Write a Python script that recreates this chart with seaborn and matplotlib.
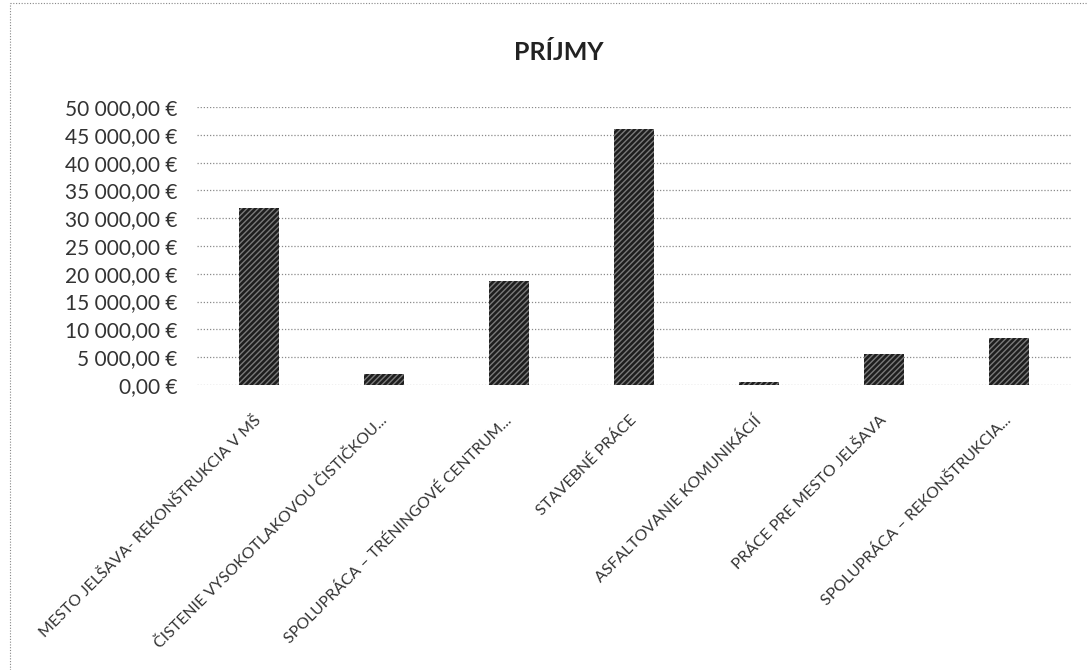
import matplotlib
matplotlib.use("Agg")
import matplotlib.pyplot as plt
import matplotlib.ticker as mticker
from matplotlib.lines import Line2D
import seaborn as sns

# data
categories = [
    "Mesto Jelšava- rekonštrukcia v MŠ",
    "Čistenie vysokotlakovou čističkou...",
    "Spolupráca – Tréningové centrum...",
    "Stavebné práce",
    "Asfaltovanie komunikácií",
    "Práce pre Mesto Jelšava",
    "Spolupráca – rekonštrukcia...",
]
income = [31800, 1900, 18700, 46000, 450, 5600, 8400]
y_ticks = list(range(0, 50001, 5000))

sns.set_style("white")
plt.rcParams['font.family'] = ['Lato', 'DejaVu Sans']
plt.rcParams['hatch.linewidth'] = 1.0

fig = plt.figure(figsize=(10.88, 6.70), dpi=100)
ax = fig.add_axes([0.181, 0.4254, 0.804, 0.4149])

sns.barplot(x=categories, y=income, color='#1e1e1e', width=0.32,
            saturation=1, ax=ax)
for bar in ax.patches:
    bar.set_hatch('//////')
    bar.set_edgecolor('#7a7a7a')
    bar.set_linewidth(0)

ax.set_ylim(0, 50000)
ax.set_xlim(-0.5, 6.5)
ax.set_yticks(y_ticks)

def euro(v, pos):
    return f"{v:,.2f}".replace(",", " ").replace(".", ",") + " €"

ax.yaxis.set_major_formatter(mticker.FuncFormatter(euro))
ax.yaxis.grid(True, color='#8a8a8a', linestyle=(0, (1, 1.5)), linewidth=0.9)
ax.set_axisbelow(True)
for s in ax.spines.values():
    s.set_visible(False)
ax.tick_params(axis='y', length=0, pad=14, labelsize=15, labelcolor='#333333')
ax.tick_params(axis='x', length=0, pad=24, labelsize=11.4, labelcolor='#333333')
ax.set_xticks(range(len(categories)))
ax.set_xticklabels([c.upper() for c in categories], rotation=45,
                   ha='right', va='center', rotation_mode='anchor')
ax.set_xlabel('')
ax.set_ylabel('')

fig.text(0.514, 0.921, "PRÍJMY", ha='center', va='center',
         fontsize=18, fontweight='bold', color='#222222')

# dotted chart border (top and left)
fig.add_artist(Line2D([0.009, 1.0], [0.996, 0.996], transform=fig.transFigure,
                      color='#888888', linestyle=(0, (1, 1.5)), linewidth=0.8))
fig.add_artist(Line2D([0.009, 0.009], [0.0, 0.996], transform=fig.transFigure,
                      color='#888888', linestyle=(0, (1, 1.5)), linewidth=0.8))

fig.savefig("out.png", dpi=100)
